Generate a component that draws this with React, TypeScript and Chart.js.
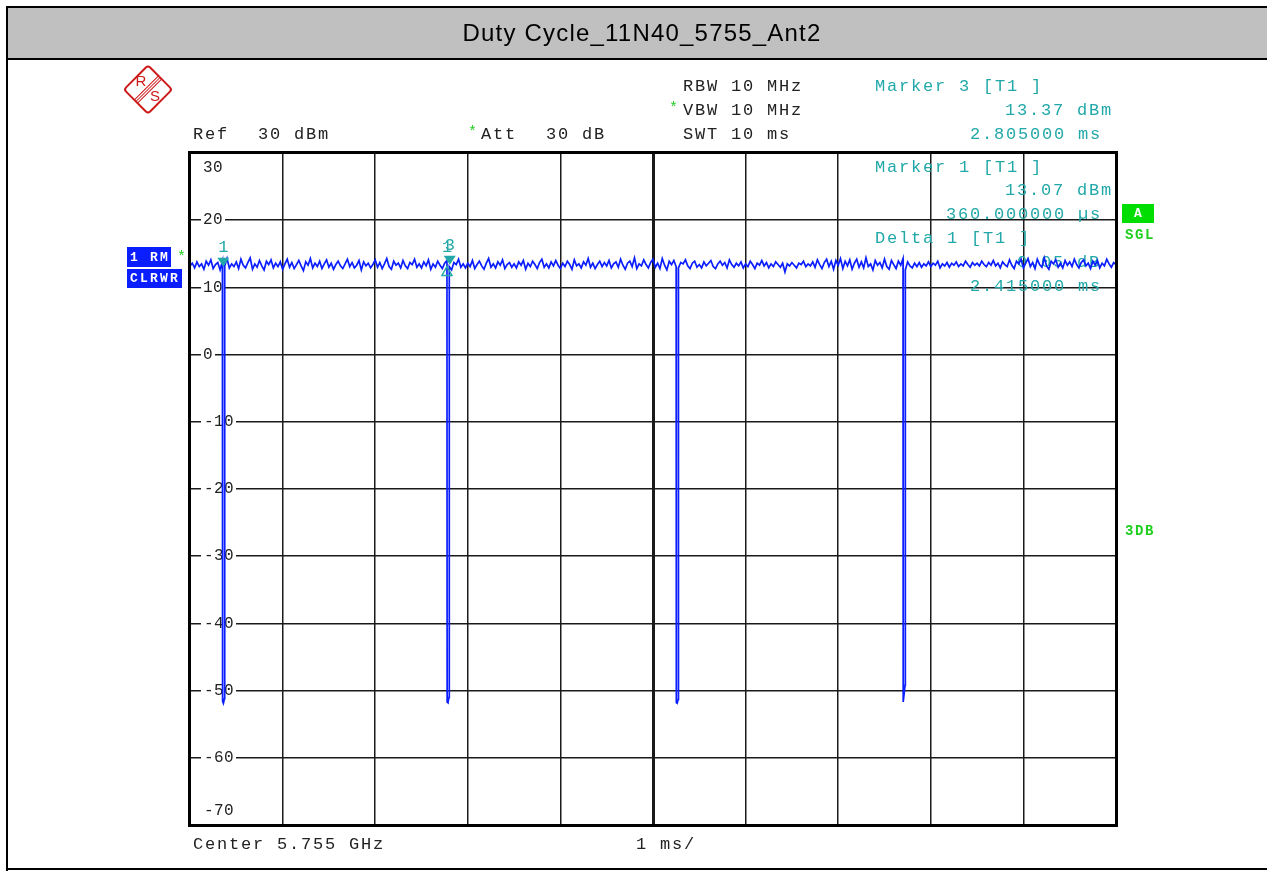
import React, { useEffect, useRef } from "react";
import { Chart, registerables } from "chart.js";

Chart.register(...registerables);

// ---------------- data ----------------
const chartTitle = "Duty Cycle_11N40_5755_Ant2";

const sweepStepMs = 0.025; // one trace sample every 25 us, 0 .. 10 ms
const traceLevels = [
  13.2, 13.6, 12.9, 13.8, 13.1, 13.5, 12.7, 13.9, 13.3, 14.1, 12.8, 13.4, 13.7, 12.6, 13.9, 13.2, 14.3, 12.9, 13.5, 13.1,
  13.8, 12.8, 14.2, 13.3, 12.9, 13.7, 14.4, 12.7, 13.5, 13.0, 14.0, 13.2, 12.6, 13.9, 13.4, 14.1, 12.9, 13.6, 13.1, 13.8,
  12.7, 13.5, 14.2, 13.0, 13.7, 12.8, 13.4, 14.0, 13.2, 12.5, 13.8, 13.3, 14.3, 12.9, 13.6, 13.1, 13.9, 12.8, 13.5, 14.1,
  13.0, 13.6, 12.7, 13.4, 13.9, 13.2, 12.8, 13.5, 14.2, 13.1, 13.7, 12.9, 13.3, 14.0, 12.6, 13.8, 13.2, 13.6, 12.9, 13.4,
  14.1, 13.0, 13.7, 12.8, 13.5, 14.3, 13.1, 12.7, 13.9, 13.3, 13.6, 12.9, 14.0, 13.2, 12.8, 13.7, 13.4, 14.2, 13.0, 13.5,
  12.9, 13.8, 13.2, 14.1, 12.7, 13.5, 13.0, 13.9, 13.3, 12.8, 13.6, 14.0, 13.1, 12.6, 13.7, 13.4, 14.2, 13.0, 13.5, 12.9,
  13.6, 13.1, 14.0, 12.8, 13.4, 13.9, 13.2, 12.7, 13.6, 14.3, 13.0, 13.5, 12.9, 13.8, 13.3, 14.1, 12.8, 13.4, 13.7, 13.0,
  13.5, 12.9, 13.8, 13.3, 14.0, 12.7, 13.6, 13.1, 13.9, 13.4, 12.8, 13.7, 14.2, 13.0, 13.5, 12.9, 13.8, 13.2, 14.0, 13.3,
  12.8, 13.6, 13.1, 13.9, 13.4, 12.7, 14.1, 13.2, 13.5, 12.9, 13.8, 13.3, 14.3, 13.0, 13.6, 12.8, 13.4, 13.9, 13.1, 13.7,
  13.2, 14.0, 12.9, 13.5, 13.8, 13.0, 14.2, 13.3, 12.7, 13.6, 13.9, 13.1, 14.4, 12.8, 13.5, 13.2, 14.1, 13.4, 12.9, 13.7,
  14.2, 13.0, 13.6, 12.8, 14.3, 13.3, 12.6, 13.9, 13.4, 14.0, 13.1, 12.9, 13.7, 13.5, 14.1, 13.2, 12.8, 13.6, 13.9, 13.0,
  13.4, 12.9, 13.8, 13.2, 13.6, 14.0, 13.1, 12.8, 13.5, 13.9, 13.3, 13.7, 12.9, 14.1, 13.4, 13.0, 13.6, 13.2, 13.8, 12.9,
  13.5, 13.1, 13.9, 13.4, 12.8, 13.6, 13.3, 14.0, 13.2, 13.7, 12.9, 13.5, 13.1, 13.8, 13.4, 13.0, 13.6, 12.3, 13.5, 13.2,
  13.7, 13.3, 12.9, 13.6, 13.4, 13.9, 13.1, 13.5, 13.2, 13.8, 13.0, 14.1, 13.4, 12.8, 13.7, 14.2, 13.1, 13.9, 12.7, 14.0,
  13.3, 14.3, 12.8, 13.9, 13.2, 14.1, 12.7, 13.6, 14.2, 13.0, 13.8, 12.9, 14.4, 13.1, 13.5, 12.6, 14.0, 13.3, 13.7, 12.9,
  14.2, 13.1, 12.7, 14.0, 13.4, 12.8, 13.9, 13.3, 14.3, 12.6, 13.8, 13.2, 12.9, 13.6, 13.1, 13.7, 13.0, 13.5, 13.2, 13.8,
  13.1, 13.6, 13.3, 13.9, 12.9, 13.5, 13.2, 13.7, 13.0, 13.6, 13.3, 13.8, 13.1, 13.5, 13.2, 13.9, 13.4, 13.0, 13.7, 13.3,
  13.6, 13.2, 13.9, 13.4, 13.1, 13.7, 13.3, 14.0, 13.2, 13.6, 12.9, 13.8, 13.4, 13.1, 14.1, 13.3, 12.8, 13.9, 13.5, 14.2,
  12.9, 13.6, 14.3, 13.1, 13.7, 12.8, 14.2, 13.4, 13.0, 14.4, 13.2, 12.7, 13.9, 13.5, 14.1, 13.0, 13.6, 12.9, 14.0, 13.3,
  13.8, 13.1, 14.2, 13.4, 12.9, 13.7, 14.1, 13.2, 13.6, 12.8, 13.9, 13.3, 14.0, 12.9, 13.6, 13.2, 14.2, 13.5, 13.0, 13.7,
  13.4,
];

// the short transmission gaps (ms, dBm)
const gapTimes = [0.352, 0.361, 0.372, 2.777, 2.786, 2.797, 5.252, 5.261, 5.272, 7.702, 7.711, 7.722];
const gapLevels = [-51.6, -51.9, -51.2, -51.7, -51.8, -51.0, -51.8, -51.9, -51.3, -51.7, -50.6, -49.2];

// markers
const markerLabels = ["1", "3", "1"];
const markerTimes = [0.36, 2.805, 2.775];
const markerLevels = [13.07, 13.37, 13.12];
const markerIsDelta = [false, false, true];

const yTickValues = [30, 20, 10, 0, -10, -20, -30, -40, -50, -60, -70];
const xMinMs = 0;
const xMaxMs = 10;
const yMinDbm = -70;
const yMaxDbm = 30;

// ---------------- styling ----------------
const TEAL = "#22a8a8";
const TRACE = "#0a1eff";
const GREEN = "#1ecf1e";
const MONO = '17px "Liberation Mono"';
const MONO_SP = 1.8;

function txt(ctx: CanvasRenderingContext2D, s: string, x: number, y: number, color: string, font = MONO, spacing = MONO_SP) {
  ctx.font = font;
  ctx.fillStyle = color;
  ctx.textAlign = "left";
  ctx.textBaseline = "middle";
  (ctx as any).letterSpacing = spacing + "px";
  ctx.fillText(s, x, y);
  (ctx as any).letterSpacing = "0px";
}

const decorPlugin = {
  id: "decor",
  beforeDraw(chart: any) {
    const ctx: CanvasRenderingContext2D = chart.ctx;
    const W = chart.width;
    const H = chart.height;
    ctx.save();
    ctx.fillStyle = "#ffffff";
    ctx.fillRect(0, 0, W, H);
    // title bar
    ctx.fillStyle = "#c0c0c0";
    ctx.fillRect(8, 8, W - 8, 50);
    ctx.fillStyle = "#000000";
    ctx.fillRect(6, 6, W - 6, 2); // top
    ctx.fillRect(6, 58, W - 6, 2); // under title
    ctx.fillRect(6, 6, 2, H - 6); // left
    ctx.fillRect(6, 868, W - 6, 2); // bottom
    ctx.font = '24px "Liberation Sans"';
    ctx.textAlign = "center";
    ctx.textBaseline = "middle";
    ctx.fillStyle = "#000";
    (ctx as any).letterSpacing = "1.2px";
    ctx.fillText(chartTitle, 642, 34);
    (ctx as any).letterSpacing = "0px";

    // R&S logo
    ctx.save();
    ctx.translate(148, 89.5);
    ctx.rotate(Math.PI / 4);
    ctx.strokeStyle = "#cc1a1a";
    ctx.lineWidth = 2;
    ctx.beginPath();
    (ctx as any).roundRect(-17, -17, 34, 34, 3);
    ctx.stroke();
    ctx.lineWidth = 1;
    for (const dx of [-2.2, 0, 2.2]) {
      ctx.beginPath();
      ctx.moveTo(dx, -17);
      ctx.lineTo(dx, 17);
      ctx.stroke();
    }
    ctx.restore();
    ctx.font = '15px "Liberation Sans"';
    ctx.fillStyle = "#cc1a1a";
    ctx.textAlign = "center";
    ctx.textBaseline = "middle";
    ctx.fillText("R", 141, 82);
    ctx.fillText("S", 155, 97);

    // header settings
    txt(ctx, "RBW 10 MHz", 683, 86, "#222");
    txt(ctx, "*", 669, 108, GREEN, '15px "Liberation Mono"', 0);
    txt(ctx, "VBW 10 MHz", 683, 110, "#222");
    txt(ctx, "SWT 10 ms", 683, 134, "#222");
    txt(ctx, "Ref", 193, 134, "#222");
    txt(ctx, "30 dBm", 258, 134, "#222");
    txt(ctx, "*", 468, 132, GREEN, '15px "Liberation Mono"', 0);
    txt(ctx, "Att", 481, 134, "#222");
    txt(ctx, "30 dB", 546, 134, "#222");
    txt(ctx, "Marker 3 [T1 ]", 875, 86, TEAL);
    txt(ctx, "13.37 dBm", 1005, 110, TEAL);
    txt(ctx, "2.805000 ms", 970, 134, TEAL);

    // left trace badges
    ctx.fillStyle = "#0a1eff";
    ctx.fillRect(127, 247, 44, 20);
    ctx.fillRect(127, 269, 55, 19);
    txt(ctx, "1 RM", 130, 258, "#fff", 'bold 13px "Liberation Mono"', 2.2);
    txt(ctx, "CLRWR", 130, 279, "#fff", 'bold 13px "Liberation Mono"', 2.2);
    txt(ctx, "*", 177, 257, GREEN, '15px "Liberation Mono"', 0);

    // right status
    ctx.fillStyle = "#00dd00";
    ctx.fillRect(1122, 204, 32, 19);
    txt(ctx, "A", 1134, 214, "#fff", 'bold 13px "Liberation Mono"', 0);
    txt(ctx, "SGL", 1125, 235, GREEN, 'bold 14px "Liberation Mono"', 1.6);
    txt(ctx, "3DB", 1125, 531, GREEN, 'bold 14px "Liberation Mono"', 1.6);

    // footer
    txt(ctx, "Center 5.755 GHz", 193, 844, "#222");
    txt(ctx, "1 ms/", 636, 844, "#222");
    ctx.restore();
  },
  beforeDatasetsDraw(chart: any) {
    const ctx: CanvasRenderingContext2D = chart.ctx;
    const ys = chart.scales.y;
    const area = chart.chartArea;
    ctx.save();
    for (const v of yTickValues) {
      let py = ys.getPixelForValue(v);
      if (v === yMaxDbm) py += 15;
      if (v === yMinDbm) py -= 14;
      const s = v < 0 ? "-" + Math.abs(v) : String(v);
      const x0 = v < 0 ? 204 : 203;
      const w = s.length * 10;
      ctx.fillStyle = "#fff";
      ctx.fillRect(area.left + 11, py - 3, x0 + w - area.left - 9, 6);
      txt(ctx, s, x0, py, "#222", '16px "Liberation Mono"', 0.4);
    }
    txt(ctx, "Marker 1 [T1 ]", 875, 167, TEAL);
    txt(ctx, "13.07 dBm", 1005, 190, TEAL);
    txt(ctx, "360.000000 \u00b5s", 946, 214, TEAL);
    txt(ctx, "Delta 1 [T1 ]", 875, 238, TEAL);
    txt(ctx, "0.05 dB", 1017, 262, TEAL);
    txt(ctx, "2.415000 ms", 970, 286, TEAL);
    ctx.restore();
  },
  afterDatasetsDraw(chart: any) {
    const ctx: CanvasRenderingContext2D = chart.ctx;
    const xs = chart.scales.x;
    const ys = chart.scales.y;
    const a = chart.chartArea;
    ctx.save();
    for (let i = 0; i < markerTimes.length; i++) {
      const px = xs.getPixelForValue(markerTimes[i]);
      const py = ys.getPixelForValue(markerLevels[i]);
      ctx.beginPath();
      if (markerIsDelta[i]) {
        ctx.moveTo(px, py);
        ctx.lineTo(px - 5, py + 9);
        ctx.lineTo(px + 5, py + 9);
        ctx.closePath();
        ctx.strokeStyle = TEAL;
        ctx.lineWidth = 1.5;
        ctx.stroke();
      } else {
        ctx.moveTo(px - 6, py - 9);
        ctx.lineTo(px + 6, py - 9);
        ctx.lineTo(px, py);
        ctx.closePath();
        ctx.fillStyle = TEAL;
        ctx.fill();
      }
      txt(ctx, markerLabels[i], px - 5, py - 19, TEAL, MONO, 0);
    }
    // frame
    ctx.strokeStyle = "#000";
    ctx.lineWidth = 3;
    ctx.strokeRect(a.left - 0.5, a.top - 0.5, a.right - a.left + 1, a.bottom - a.top + 1);
    ctx.restore();
  },
};

export default function App() {
  const ref = useRef<HTMLCanvasElement | null>(null);
  useEffect(() => {
    if (!ref.current) return;
    const pts: { x: number; y: number }[] = traceLevels.map((v, i) => ({ x: xMinMs + i * sweepStepMs, y: v }));
    gapTimes.forEach((t, i) => pts.push({ x: t, y: gapLevels[i] }));
    pts.sort((p, q) => p.x - q.x);

    const chart = new Chart(ref.current, {
      type: "line",
      data: {
        datasets: [
          {
            data: pts,
            borderColor: TRACE,
            borderWidth: 1.7,
            pointRadius: 0,
            tension: 0,
          },
        ],
      },
      options: {
        animation: false,
        responsive: false,
        devicePixelRatio: 1,
        layout: { padding: { left: 190, top: 153, right: 151, bottom: 46 } },
        plugins: { legend: { display: false }, tooltip: { enabled: false } },
        scales: {
          x: {
            type: "linear",
            min: xMinMs,
            max: xMaxMs,
            ticks: { display: false, stepSize: 1 },
            border: { display: false },
            grid: {
              drawTicks: false,
              color: "#1a1a1a",
              lineWidth: (c: any) => (c.tick && c.tick.value === 5 ? 3 : 1.5),
            },
          },
          y: {
            type: "linear",
            min: yMinDbm,
            max: yMaxDbm,
            ticks: { display: false, stepSize: 10 },
            border: { display: false },
            grid: { drawTicks: false, color: "#1a1a1a", lineWidth: 1.5 },
          },
        },
      },
      plugins: [decorPlugin],
    } as any);
    return () => chart.destroy();
  }, []);

  return (
    <div style={{ position: "fixed", left: 0, top: 0, width: 1267, height: 871, background: "#fff" }}>
      <canvas ref={ref} width={1267} height={871} style={{ display: "block", width: 1267, height: 871 }} />
    </div>
  );
}
